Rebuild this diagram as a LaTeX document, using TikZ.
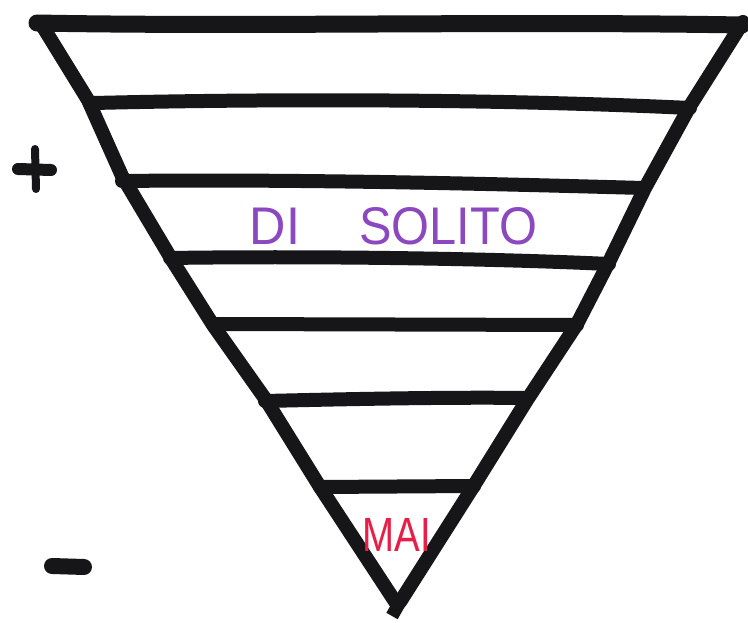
\documentclass[tikz,border=0pt]{standalone}
\usepackage{fontspec}
\setmainfont{Liberation Sans}
\definecolor{inkpurple}{RGB}{140,72,190}
\definecolor{inkred}{RGB}{232,30,72}
\definecolor{ink}{RGB}{22,22,24}
\begin{document}
\begin{tikzpicture}[x=1pt,y=-1pt,
  pen/.style={draw=ink,line width=14pt,line cap=round,line join=round},
  band/.style={draw=ink,line width=14pt,line cap=round},
  lbl/.style={inner sep=0pt,font=\fontsize{53}{53}\selectfont}]
\useasboundingbox (0,0) rectangle (748,623);
\fill[white] (0,0) rectangle (748,623);
% bands
\draw[band,line width=17pt] (37,23) .. controls (250,27) and (500,21) .. (742,25);
\draw[band] (94,103) .. controls (300,98) and (520,100) .. (690,108);
\draw[band] (122,181) .. controls (300,179) and (500,184) .. (643,188);
\draw[band] (170,258) .. controls (300,256) and (480,258) .. (609,264);
\draw[band] (213,324) -- (577,325);
\draw[band] (265,401) .. controls (350,399) and (450,397) .. (527,398);
\draw[band] (320,487) -- (474,486);
% edges
\draw[pen] (40,22) -- (88,100) -- (122,176) -- (172,260) -- (213,325) -- (266,400) -- (320,487) -- (396,603);
\draw[pen] (743,22) -- (690,106) -- (645,188) -- (609,262) -- (577,324) -- (527,400) -- (473,487) -- (400,602);
\draw[pen,line width=13pt,line cap=butt] (400,602) -- (392,616);
% plus and minus
\draw[ink,line width=12pt,line cap=round] (18,169) -- (51,170);
\draw[ink,line width=8pt,line cap=round] (35,149) -- (36,189);
\draw[ink,line width=16pt,line cap=round] (52,566) -- (84,567);
% texts
\node[lbl,text=inkpurple,xscale=0.95] (di) at (275,226) {DI};
\node[lbl,text=inkpurple,xscale=0.92] (solito) at (448,226) {SOLITO};
\node[lbl,text=inkred,font=\fontsize{48}{48}\selectfont,xscale=0.8] (mai) at (397,535) {MAI};
\end{tikzpicture}
\end{document}
